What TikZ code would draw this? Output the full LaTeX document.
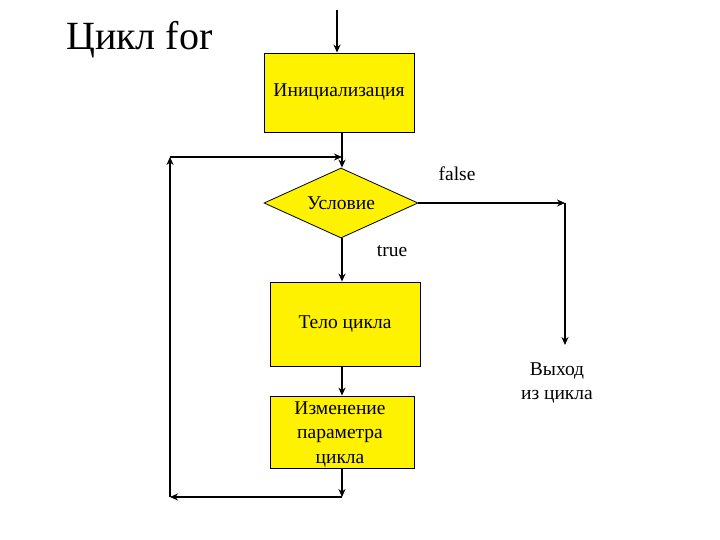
\documentclass[tikz,border=0pt]{standalone}
\usepackage{fontspec}
\setmainfont{Liberation Serif}
\usetikzlibrary{shapes.geometric,arrows.meta}
\begin{document}
\begin{tikzpicture}[x=1pt,y=-1pt,
  box/.style={draw=black,fill=yellow,line width=0.8pt,inner sep=0pt,font=\rmfamily\fontsize{19.5}{22}\selectfont,align=center},
  conn/.style={line width=2pt,-{Stealth[length=8pt,width=7pt]}},
  lbl/.style={font=\rmfamily\fontsize{19.5}{22}\selectfont,inner sep=0pt}]
\useasboundingbox (0,0) rectangle (720,540);
\node[inner sep=0pt,anchor=base west,font=\rmfamily\fontsize{40}{44}\selectfont] (title) at (66,50) {Цикл for};
\coordinate (top) at (337,10);
\node[box,minimum width=150pt,minimum height=79pt] (init) at (339,92.5) {Инициализация};
\node[box,diamond,aspect=2.2,minimum width=154pt,minimum height=70pt,inner sep=0pt] (cond) at (341,203) {Условие};
\node[box,minimum width=150pt,minimum height=84pt] (body) at (345,324) {Тело цикла};
\node[box,minimum width=144pt,minimum height=72pt] (upd) at (342,432) {};
\node[lbl,align=center,font=\rmfamily\fontsize{19.5}{24.5}\selectfont] (updtext) at (340,434) {Изменение\\параметра\\цикла};
\node[lbl] (false) at (457,174) {false};
\node[lbl] (true) at (392,251) {true};
\node[lbl,align=center,font=\rmfamily\fontsize{19.5}{24}\selectfont] (exit) at (557,383) {Выход\\из цикла};
\coordinate (j1) at (342,157);
\coordinate (fr) at (565,203);
\coordinate (fe) at (565,345);
\coordinate (ub) at (342,497);
\coordinate (lb) at (170,497);
\coordinate (lt) at (170,157);
\draw[conn] (top) -- (init.north -| top);
\draw[conn] (init.south -| j1) -- (cond.north -| j1);
\draw[conn] (cond.east) -- (fr);
\draw[conn] (fr) -- (fe);
\draw[conn] (cond.south -| j1) -- (body.north -| j1);
\draw[conn] (body.south -| j1) -- (upd.north -| j1);
\draw[conn] (upd.south -| ub) -- (ub);
\draw[conn] (ub) -- (lb);
\draw[conn] (lb) -- (lt);
\draw[conn] (lt) -- (j1);
\end{tikzpicture}
\end{document}
